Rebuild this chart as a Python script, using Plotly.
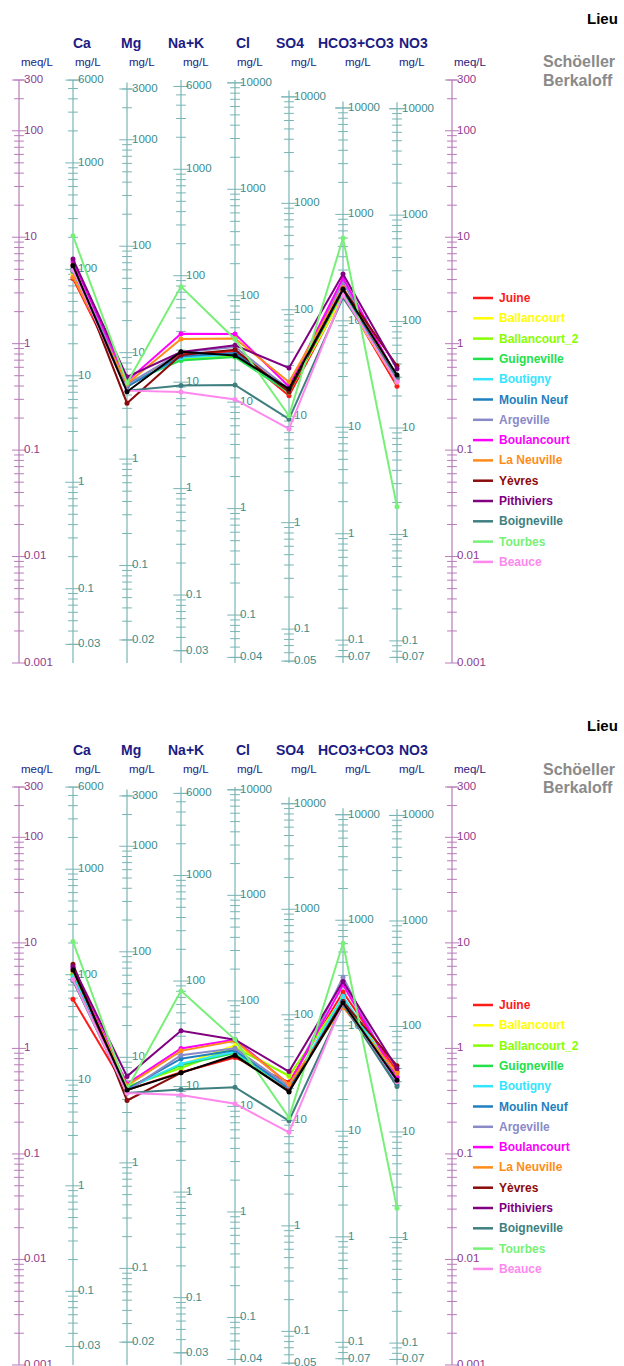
import numpy as np
import plotly.graph_objects as go

W, H = 624, 1366

# ---------------- data ----------------
ions = ["Ca", "Mg", "Na+K", "Cl", "SO4", "HCO3+CO3", "NO3"]
eq_weights = [20.04, 12.15, 23.0, 35.45, 48.03, 61.02, 62.0]
axis_top_mg = [6000, 3000, 6000, 10000, 10000, 10000, 10000]
axis_bottom_mg = [0.03, 0.02, 0.03, 0.04, 0.05, 0.07, 0.07]
meq_labels = [300, 100, 10, 1, 0.1, 0.01, 0.001]

stations = ["Juine", "Ballancourt", "Ballancourt_2", "Guigneville", "Boutigny",
            "Moulin Neuf", "Argeville", "Boulancourt", "La Neuville", "Yèvres",
            "Pithiviers", "Boigneville", "Tourbes", "Beauce", "(moyenne)"]
colors = ["#ff1a1a", "#ffff00", "#88ff00", "#22e04a", "#33e5ff",
          "#1f7fbf", "#8a8ac8", "#ff00ff", "#ff8c1a", "#8b0a0a",
          "#800080", "#3f7f7f", "#77f077", "#ff88ee", "#000000"]
in_legend = [True] * 14 + [False]

# mg/L values: Ca, Mg, Na+K, Cl, SO4, HCO3+CO3, NO3
top_mg = [
    [82, 4.8, 18.4, 30, 15.6, 176, 24.7],
    [90, 5.0, 17, 28, 17, 170, 27],
    [95, 5.2, 16.5, 27, 17.5, 185, 28],
    [100, 5.1, 16, 26.5, 16.8, 190, 29],
    [98, 4.9, 17, 28, 17.5, 200, 28],
    [96, 4.8, 17.5, 29, 17.2, 195, 29],
    [105, 5.0, 19, 33, 18, 230, 30],
    [118, 5.4, 28.5, 43.8, 19, 253, 30],
    [85, 5.1, 25.4, 39.7, 21, 205, 30],
    [110, 3.35, 18, 31, 17, 200, 38.4],
    [125, 5.93, 19.2, 34.2, 28.4, 275, 36],
    [100, 4.4, 9.3, 14.5, 9.4, 165, 30],
    [207, 5.2, 79, 39, 10.1, 599, 1.82],
    [98, 4.4, 8.1, 10.6, 7.6, 175, 27],
    [108, 4.3, 19.3, 27.4, 18.1, 197, 31.5],
]
bottom_mg = [
    [58.6, 4.9, 13.7, 29, 23, 209, 37.4],
    [100, 5.2, 16, 38, 26, 185, 35],
    [103, 5.3, 15, 36, 26.5, 180, 34],
    [100, 5.1, 16, 32, 20, 175, 33],
    [95, 5.0, 16.5, 33, 20, 190, 32],
    [90, 5.0, 18.4, 34, 20, 170, 28.3],
    [88, 4.8, 19.8, 35.5, 21, 289, 30],
    [115, 5.6, 23, 43, 22, 245, 33],
    [108, 5.4, 21.8, 41.8, 22, 150, 36],
    [126, 3.9, 13.5, 30, 19, 170, 42.5],
    [120, 6.6, 33.8, 42.9, 29, 263, 40],
    [88, 4.6, 9.4, 15.2, 9.9, 160, 27],
    [206, 5.0, 80.7, 43, 10.6, 606, 1.9],
    [90, 4.6, 8.3, 10.6, 7.7, 165, 30],
    [111, 4.9, 13.5, 30.6, 18.6, 165, 31],
]

# ---------------- layout constants ----------------
COL_X = [73, 127, 181, 235, 289, 343, 397]
TITLE_X = [82, 131, 186, 243, 290, 356, 413]
MEQ_X = [19, 452]
PANELS = [  # (pixel y of 300 meq, pixel y of 0.001 meq, vertical offset for headers)
    (80, 663, 0),
    (787, 1365, 707),
]
FONT = "Liberation Sans, Arial, sans-serif"
MEQ_LINE = "#b87cb8"
MEQ_TXT = "#8e3a8e"
MG_LINE = "#7ab4b4"
MG_TXT = "#3a8c8c"
NAVY = "#1c1c84"


def py2paper(py):
    return 1 - py / H


def fmt(v):
    return f"{v:g}"


def log_ticks(lo, hi):
    out = []
    for e in range(-4, 6):
        for k in range(1, 10):
            v = k * 10.0 ** e
            if lo * 0.999 <= v <= hi * 1.001:
                out.append((v, k == 1))
    return out


fig = go.Figure()
annotations = []
shapes = []

for p, (ytop, ybot, off) in enumerate(PANELS):
    xa = "x" if p == 0 else "x2"
    ya = "y" if p == 0 else "y2"

    # meq/L axes
    for mx in MEQ_X:
        fig.add_trace(go.Scatter(x=[mx, mx], y=[300, 0.001], mode="lines",
                                 line=dict(color=MEQ_LINE, width=1.2),
                                 hoverinfo="skip", showlegend=False, xaxis=xa, yaxis=ya))
        tk = log_ticks(0.001, 300)
        for major in (False, True):
            vals = [v for v, m in tk if m == major] + ([300] if major else [])
            fig.add_trace(go.Scatter(x=[mx] * len(vals), y=vals, mode="markers",
                                     marker=dict(symbol="line-ew", size=10 if major else 7,
                                                 line=dict(width=1, color=MEQ_LINE)),
                                     hoverinfo="skip", showlegend=False, cliponaxis=False,
                                     xaxis=xa, yaxis=ya))
        fig.add_trace(go.Scatter(x=[mx + 5] * len(meq_labels), y=meq_labels, mode="text",
                                 text=[fmt(v) for v in meq_labels], textposition="middle right",
                                 textfont=dict(family=FONT, size=11.5, color=MEQ_TXT),
                                 hoverinfo="skip", showlegend=False, cliponaxis=False,
                                 xaxis=xa, yaxis=ya))

    # mg/L axes
    for i, ion in enumerate(ions):
        cx = COL_X[i]
        ew = eq_weights[i]
        top_meq = min(300, axis_top_mg[i] / ew * 1.15)
        fig.add_trace(go.Scatter(x=[cx, cx], y=[top_meq, 0.001], mode="lines",
                                 line=dict(color=MG_LINE, width=1.2),
                                 hoverinfo="skip", showlegend=False, xaxis=xa, yaxis=ya))
        tk = log_ticks(axis_bottom_mg[i], axis_top_mg[i])
        tk += [(axis_top_mg[i], True), (axis_bottom_mg[i], True)]
        for major in (False, True):
            vals = [v / ew for v, m in tk if m == major]
            fig.add_trace(go.Scatter(x=[cx] * len(vals), y=vals, mode="markers",
                                     marker=dict(symbol="line-ew", size=11 if major else 7,
                                                 line=dict(width=1, color=MG_LINE)),
                                     hoverinfo="skip", showlegend=False, cliponaxis=False,
                                     xaxis=xa, yaxis=ya))
        labs = [axis_top_mg[i]] + [10.0 ** e for e in range(-1, 5)
                                   if axis_bottom_mg[i] < 10.0 ** e < axis_top_mg[i]] + [axis_bottom_mg[i]]
        fig.add_trace(go.Scatter(x=[cx + 5] * len(labs), y=[v / ew for v in labs], mode="text",
                                 text=[fmt(v) for v in labs], textposition="middle right",
                                 textfont=dict(family=FONT, size=11.5, color=MG_TXT),
                                 hoverinfo="skip", showlegend=False, cliponaxis=False,
                                 xaxis=xa, yaxis=ya))

    # data lines
    data = top_mg if p == 0 else bottom_mg
    for s, name in enumerate(stations):
        meq = [v / ew for v, ew in zip(data[s], eq_weights)]
        fig.add_trace(go.Scatter(x=COL_X, y=meq, mode="lines+markers", name=name,
                                 line=dict(color=colors[s], width=2),
                                 marker=dict(color=colors[s], size=5),
                                 showlegend=False, xaxis=xa, yaxis=ya))

    # headers
    for i, ion in enumerate(ions):
        annotations.append(dict(x=TITLE_X[i] / W, y=py2paper(43 + off), xref="paper", yref="paper",
                                text=f"<b>{ion}</b>", showarrow=False, xanchor="center",
                                yanchor="middle", font=dict(family=FONT, size=14, color=NAVY)))
        annotations.append(dict(x=COL_X[i] / W, y=py2paper(62 + off), xref="paper", yref="paper",
                                text="mg/L", showarrow=False, xanchor="left", yanchor="middle",
                                font=dict(family=FONT, size=11.5, color=NAVY)))
    for mx in MEQ_X:
        annotations.append(dict(x=mx / W, y=py2paper(62 + off), xref="paper", yref="paper",
                                text="meq/L", showarrow=False, xanchor="left", yanchor="middle",
                                font=dict(family=FONT, size=11.5, color=NAVY)))
    annotations.append(dict(x=620 / W, y=py2paper(18 + off), xref="paper", yref="paper",
                            text="<b>Lieu</b>", showarrow=False, xanchor="right", yanchor="middle",
                            font=dict(family=FONT, size=15, color="#000000")))
    for j, word in enumerate(["Schöeller", "Berkaloff"]):
        annotations.append(dict(x=541 / W, y=py2paper(62 + j * 18 + off), xref="paper", yref="paper",
                                text=f"<b>{word}</b>", showarrow=False, xanchor="left",
                                yanchor="middle", font=dict(family=FONT, size=16, color="#8a8a8a")))

    # legend
    row = 0
    for s, name in enumerate(stations):
        if not in_legend[s]:
            continue
        ly = 298 + off + row * 20.3
        shapes.append(dict(type="line", xref="paper", yref="paper",
                           x0=473 / W, x1=493 / W, y0=py2paper(ly), y1=py2paper(ly),
                           line=dict(color=colors[s], width=2.5)))
        annotations.append(dict(x=497 / W, y=py2paper(ly), xref="paper", yref="paper",
                                text=f"<b>{name}</b>", showarrow=False, xanchor="left",
                                yanchor="middle", font=dict(family=FONT, size=12, color=colors[s])))
        row += 1

axis_common = dict(showgrid=False, zeroline=False, showticklabels=False, showline=False, ticks="")
layout_axes = {}
for p, (ytop, ybot, off) in enumerate(PANELS):
    sfx = "" if p == 0 else "2"
    layout_axes["xaxis" + sfx] = dict(range=[0, W], domain=[0, 1],
                                      anchor="y" + sfx, **axis_common)
    layout_axes["yaxis" + sfx] = dict(type="log", range=[np.log10(0.001), np.log10(300)],
                                      domain=[py2paper(ybot), py2paper(ytop)],
                                      anchor="x" + sfx, **axis_common)

fig.update_layout(width=W, height=H, margin=dict(l=0, r=0, t=0, b=0),
                  paper_bgcolor="white", plot_bgcolor="white",
                  annotations=annotations, shapes=shapes, **layout_axes)

fig.write_html("out.html", config={"displayModeBar": False},
               post_script="document.body.style.margin='0';document.body.style.overflow='hidden';")
